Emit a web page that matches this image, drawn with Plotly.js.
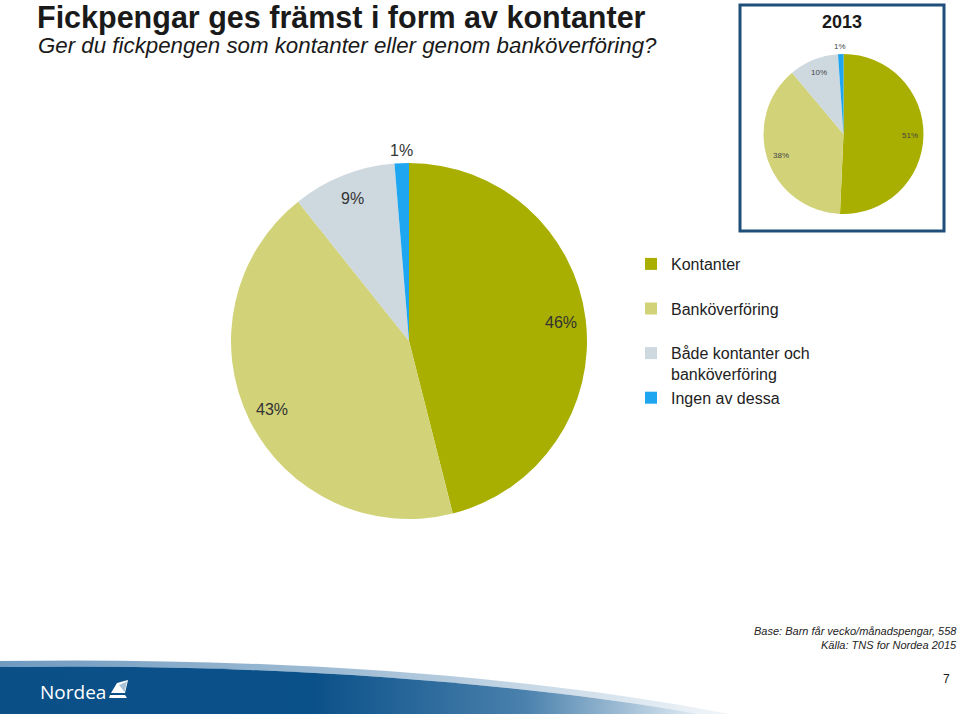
<!DOCTYPE html>
<html>
<head>
<meta charset="utf-8">
<script src="https://cdn.plot.ly/plotly-3.0.1.min.js"></script>
<style>html,body{margin:0;padding:0;background:#fff;}#chart{width:960px;height:714px;}</style>
</head>
<body>
<div id="chart"></div>
<script>
// ---- Data ----
var categories = ['Kontanter', 'Banköverföring', 'Både kontanter och banköverföring', 'Ingen av dessa'];
var legendLabels = ['Kontanter<br> ', 'Banköverföring<br> ', 'Både kontanter och<br>banköverföring', 'Ingen av dessa'];
var values2015 = [46, 43.2, 9.4, 1.3];
var values2013 = [50.7, 38.2, 10, 1.1];
var sliceColors = ['#A8AF00', '#D2D279', '#CDD8DF', '#1FA6F0'];

// ---- Geometry / style ----
var W = 960, H = 714;
function px(x){return x/W;}
function py(y){return 1 - y/H;}
var FONT = 'Liberation Sans, Arial, sans-serif';

var mainGeo = {cx: 409, cy: 341, r: 178, fs: 16, col: '#333333', inF: 0.86, outF: 1.07};
var insetGeo = {cx: 843.5, cy: 134, r: 80, fs: 8, col: '#444444', inF: 0.83, outF: 1.09};
var labelPlacement = ['in', 'in', 'in', 'out'];

function pieTrace(labels, vals, geo, showLegend){
  return {
    type: 'pie', labels: labels, values: vals, sort: false,
    direction: 'clockwise', rotation: 0,
    marker: {colors: sliceColors, line: {width: 0}},
    textinfo: 'none', hoverinfo: 'label+value',
    domain: {x: [px(geo.cx - geo.r), px(geo.cx + geo.r)], y: [py(geo.cy + geo.r), py(geo.cy - geo.r)]},
    showlegend: showLegend
  };
}

function sliceLabels(vals, geo){
  var total = vals.reduce(function(a,b){return a+b;}, 0);
  var cum = 0, out = [];
  vals.forEach(function(v, i){
    var mid = (cum + v/2) / total * 2 * Math.PI;
    cum += v;
    var f = labelPlacement[i] === 'in' ? geo.inF : geo.outF;
    var x = geo.cx + geo.r * f * Math.sin(mid);
    var y = geo.cy - geo.r * f * Math.cos(mid);
    out.push({text: Math.round(v) + '%', xref: 'paper', yref: 'paper', x: px(x), y: py(y),
      xanchor: 'center', yanchor: 'middle', showarrow: false,
      font: {family: FONT, size: geo.fs, color: geo.col}});
  });
  return out;
}

// Footer band as an SVG image
var bandSvg = '<svg xmlns="http://www.w3.org/2000/svg" width="960" height="56" viewBox="0 0 960 56">' +
  '<defs>' +
  '<linearGradient id="g1" x1="0" y1="0" x2="1" y2="0">' +
  '<stop offset="0" stop-color="#0B4F87"/><stop offset="0.45" stop-color="#0B5189"/>' +
  '<stop offset="0.75" stop-color="#4A81AD"/><stop offset="1" stop-color="#E3EDF4"/></linearGradient>' +
  '<linearGradient id="g2" x1="0" y1="0" x2="1" y2="0">' +
  '<stop offset="0" stop-color="#6F9AC0"/><stop offset="0.5" stop-color="#A3BFD6"/><stop offset="1" stop-color="#F2F6F9"/></linearGradient>' +
  '</defs>' +
  '<path d="M0,3 C250,-1 520,15 730,56 L700,56 C500,22 250,5 0,9 Z" fill="url(#g2)"/>' +
  '<path d="M0,9 C250,5 500,22 700,56 L0,56 Z" fill="url(#g1)"/>' +
  '<path d="M111,35 L117,25 L128,22 L125,35 Z" fill="#ffffff"/>' +
  '<path d="M119,27 L127,23.5 L124.5,34 Z" fill="#0B4F87" opacity="0.35"/>' +
  '<path d="M110,37 L125,37 L127,40 L109,40 Z" fill="#ffffff"/>' +
  '</svg>';
var bandUri = 'data:image/svg+xml;charset=utf-8,' + encodeURIComponent(bandSvg);

var annotations = [
  {text: '<b>Fickpengar ges främst i form av kontanter</b>', xref: 'paper', yref: 'paper',
   x: px(35), y: py(17), xanchor: 'left', yanchor: 'middle', showarrow: false,
   font: {family: FONT, size: 30.5, color: '#1a1a1a'}},
  {text: '<i>Ger du fickpengen som kontanter eller genom banköverföring?</i>', xref: 'paper', yref: 'paper',
   x: px(36), y: py(46), xanchor: 'left', yanchor: 'middle', showarrow: false,
   font: {family: FONT, size: 22.3, color: '#1a1a1a'}},
  {text: '<b>2013</b>', xref: 'paper', yref: 'paper',
   x: px(842), y: py(22), xanchor: 'center', yanchor: 'middle', showarrow: false,
   font: {family: FONT, size: 18, color: '#1a1a1a'}},
  {text: '<i>Base: Barn får vecko/månadspengar, 558</i>', xref: 'paper', yref: 'paper',
   x: px(959), y: py(631), xanchor: 'right', yanchor: 'middle', showarrow: false,
   font: {family: FONT, size: 11, color: '#222222'}},
  {text: '<i>Källa: TNS for Nordea 2015</i>', xref: 'paper', yref: 'paper',
   x: px(959), y: py(645), xanchor: 'right', yanchor: 'middle', showarrow: false,
   font: {family: FONT, size: 11, color: '#222222'}},
  {text: '7', xref: 'paper', yref: 'paper',
   x: px(946), y: py(679), xanchor: 'center', yanchor: 'middle', showarrow: false,
   font: {family: FONT, size: 12, color: '#222222'}},
  {text: 'Nordea', xref: 'paper', yref: 'paper',
   x: px(38), y: py(692), xanchor: 'left', yanchor: 'middle', showarrow: false,
   font: {family: 'Open Sans, Liberation Sans, Arial, sans-serif', size: 19, color: '#ffffff'}}
].concat(sliceLabels(values2015, mainGeo)).concat(sliceLabels(values2013, insetGeo));

var layout = {
  width: W, height: H,
  margin: {l: 0, r: 0, t: 0, b: 0},
  paper_bgcolor: '#ffffff',
  plot_bgcolor: '#ffffff',
  showlegend: true,
  legend: {
    x: px(631), y: py(247), xanchor: 'left', yanchor: 'top',
    valign: 'top',
    font: {family: FONT, size: 16, color: '#222222'},
    bgcolor: 'rgba(0,0,0,0)', traceorder: 'normal'
  },
  images: [{
    source: bandUri, xref: 'paper', yref: 'paper',
    x: 0, y: py(658), sizex: 1, sizey: 56/H,
    xanchor: 'left', yanchor: 'top', sizing: 'stretch', layer: 'below'
  }],
  shapes: [{
    type: 'rect', xref: 'paper', yref: 'paper',
    x0: px(740), x1: px(944), y0: py(231), y1: py(5),
    line: {color: '#1F4E79', width: 3}, fillcolor: 'rgba(0,0,0,0)'
  }],
  annotations: annotations
};

Plotly.newPlot('chart', [pieTrace(legendLabels, values2015, mainGeo, true),
                         pieTrace(categories, values2013, insetGeo, false)],
               layout, {displayModeBar: false, staticPlot: true});
</script>
</body>
</html>
